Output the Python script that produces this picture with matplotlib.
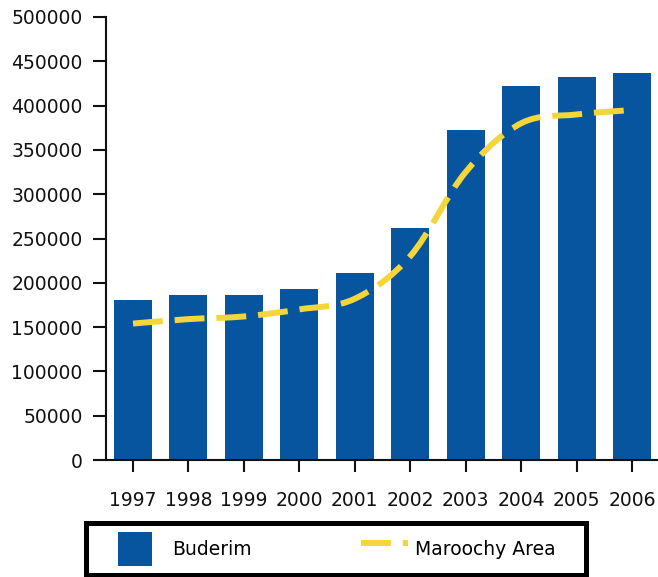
import matplotlib
matplotlib.use("Agg")
import matplotlib.pyplot as plt
from matplotlib.path import Path
from matplotlib.patches import PathPatch, Rectangle
from matplotlib.lines import Line2D
from matplotlib.legend_handler import HandlerPatch
import numpy as np

years = ["1997", "1998", "1999", "2000", "2001", "2002", "2003", "2004", "2005", "2006"]
buderim = [181000, 186000, 186000, 193000, 211000, 262000, 373000, 422000, 432000, 437000]
maroochy = [154000, 159000, 162000, 170000, 182000, 230000, 325000, 380000, 390000, 395000]
yticks = [0, 50000, 100000, 150000, 200000, 250000, 300000, 350000, 400000, 450000, 500000]

BLUE = "#07559e"
YELLOW = "#f5d63a"

plt.rcParams['font.family'] = ['DejaVu Sans']

fig = plt.figure(figsize=(6.58, 5.77), dpi=100)
ax = fig.add_axes([106/658, 1 - 460/577, (657-106)/658, (460-17)/577])

x = np.arange(len(years))
ax.bar(x, buderim, width=0.685, color=BLUE, zorder=2)

# smooth curve (Catmull-Rom -> cubic Bezier) through the data points
pts = np.column_stack([x, maroochy]).astype(float)
verts = [tuple(pts[0])]
codes = [Path.MOVETO]
n = len(pts)
for i in range(n - 1):
    p0 = pts[max(i - 1, 0)]
    p1 = pts[i]
    p2 = pts[i + 1]
    p3 = pts[min(i + 2, n - 1)]
    c1 = p1 + (p2 - p0) / 6.0
    c2 = p2 - (p3 - p1) / 6.0
    verts += [tuple(c1), tuple(c2), tuple(p2)]
    codes += [Path.CURVE4] * 3
curve = PathPatch(Path(verts, codes), facecolor='none', edgecolor=YELLOW,
                  linewidth=4.3, linestyle=(0, (5, 2)), capstyle='butt', zorder=3)
ax.add_patch(curve)

ax.set_xlim(-0.487, 9.451)
ax.set_ylim(0, 500000)
ax.set_xticks(x)
ax.set_xticklabels(years)
ax.set_yticks(yticks)
ax.set_yticklabels([str(v) for v in yticks])

for s in ['top', 'right']:
    ax.spines[s].set_visible(False)
for s in ['left', 'bottom']:
    ax.spines[s].set_linewidth(1.5)
    ax.spines[s].set_color('#111111')
ax.tick_params(axis='y', length=9.4, width=1.5, pad=7.5, labelsize=13.5, colors='#111111')
ax.tick_params(axis='x', length=8.6, width=1.5, pad=14, labelsize=13.5, colors='#111111')

# legend
def square_patch(legend, orig_handle, xdescent, ydescent, width, height, fontsize):
    return Rectangle((-xdescent, -ydescent), height, height)

h_bar = Rectangle((0, 0), 1, 1, facecolor=BLUE, edgecolor='none')
h_line = Line2D([0, 1], [0, 0], color=YELLOW, linewidth=4.3, linestyle=(0, (5, 2)),
                dash_capstyle='butt')
leg = fig.legend([h_bar, h_line], ["Buderim", "Maroochy Area"],
                 handler_map={Rectangle: HandlerPatch(patch_func=square_patch)},
                 loc='center left', bbox_to_anchor=(118/658, 1 - 549/577),
                 ncol=2, frameon=False, fontsize=13.5, borderpad=0, borderaxespad=0,
                 handlelength=2.5, handleheight=2.41, handletextpad=0.4,
                 columnspacing=5.8)

fig.patches.append(Rectangle((85.5/658, 2.5/577), (585.5-85.5)/658, (574.5-522.5)/577,
                             transform=fig.transFigure, facecolor='none',
                             edgecolor='black', linewidth=3.6))

fig.savefig("out.png", dpi=100)
